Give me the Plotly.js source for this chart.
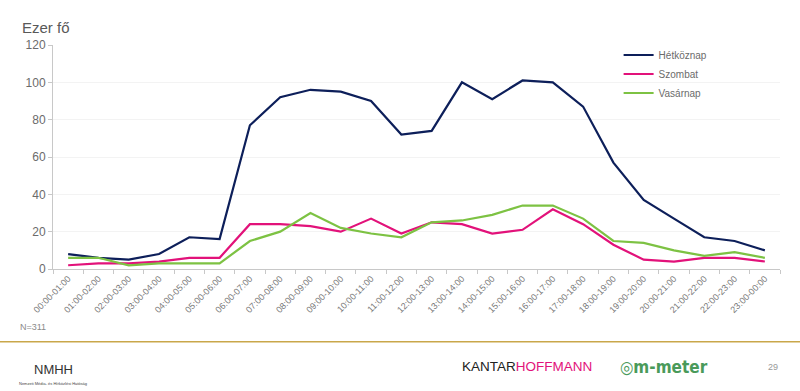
<!DOCTYPE html>
<html><head><meta charset="utf-8">
<script src="https://cdn.plot.ly/plotly-3.0.1.min.js"></script>
<style>html,body{margin:0;padding:0;background:#fff;}#chart{width:800px;height:391px;}</style>
</head><body><div id="chart"></div>
<script>
const categories = ["00:00-01:00","01:00-02:00","02:00-03:00","03:00-04:00","04:00-05:00","05:00-06:00","06:00-07:00","07:00-08:00","08:00-09:00","09:00-10:00","10:00-11:00","11:00-12:00","12:00-13:00","13:00-14:00","14:00-15:00","15:00-16:00","16:00-17:00","17:00-18:00","18:00-19:00","19:00-20:00","20:00-21:00","21:00-22:00","22:00-23:00","23:00-00:00"];
const hetkoznap = [8,6,5,8,17,16,77,92,96,95,90,72,74,100,91,101,100,87,57,37,27,17,15,10];
const szombat = [2,3,3,4,6,6,24,24,23,20,27,19,25,24,19,21,32,24,13,5,4,6,6,4];
const vasarnap = [6,6,2,3,3,3,15,20,30,22,19,17,25,26,29,34,34,27,15,14,10,7,9,6];
const seriesNames = ["Hétköznap","Szombat","Vasárnap"];
const yTicks = [0,20,40,60,80,100,120];

const gray = "#6b6b6b";
const traces = [
  {x: categories, y: hetkoznap, name: seriesNames[0], type: "scatter", mode: "lines", line: {color: "#0d1f5a", width: 2.2}},
  {x: categories, y: szombat, name: seriesNames[1], type: "scatter", mode: "lines", line: {color: "#e2127a", width: 2.2}},
  {x: categories, y: vasarnap, name: seriesNames[2], type: "scatter", mode: "lines", line: {color: "#7dc243", width: 2.2}}
];
const layout = {
  width: 800, height: 391,
  margin: {l: 53, r: 20, t: 45, b: 122},
  paper_bgcolor: "#fff", plot_bgcolor: "#fff",
  font: {family: "Liberation Sans, Arial, sans-serif", color: gray},
  showlegend: true,
  legend: {x: 0.778, y: 1.02, xanchor: "left", yanchor: "top", font: {size: 10, color: gray}, bgcolor: "rgba(0,0,0,0)", tracegroupgap: 0, itemwidth: 30},
  xaxis: {
    type: "category", range: [-0.5, 23.5], tickangle: -45,
    tickfont: {size: 9, color: "#7a7a7a"}, showgrid: false,
    showline: true, linecolor: "#c8c8c8", linewidth: 1,
    ticks: "outside", tickson: "boundaries", ticklen: 4, tickcolor: "#c8c8c8",
    zeroline: false
  },
  yaxis: {
    range: [0, 120], tickvals: yTicks, tickfont: {size: 12, color: gray},
    showgrid: true, gridcolor: "#f3f3f3", gridwidth: 1,
    showline: true, linecolor: "#c8c8c8", linewidth: 1,
    ticks: "outside", ticklen: 4, tickcolor: "#c8c8c8", zeroline: false
  },
  shapes: [
    {type: "line", xref: "paper", yref: "paper", x0: -0.073, x1: 1.0275, y0: -0.325, y1: -0.325, line: {color: "#c9a74a", width: 1.5}}
  ],
  annotations: [
    {text: "Ezer fő", xref: "paper", yref: "paper", x: -0.046, y: 1.08, xanchor: "left", yanchor: "middle", showarrow: false, font: {size: 15, color: "#595959"}},
    {text: "N=311", xref: "paper", yref: "paper", x: -0.048, y: -0.26, xanchor: "left", yanchor: "middle", showarrow: false, font: {size: 9, color: "#8a8a8a"}},
    {text: "NMHH", xref: "paper", yref: "paper", x: 0.0, y: -0.45, xanchor: "center", yanchor: "middle", showarrow: false, font: {size: 13, color: "#333"}},
    {text: "Nemzeti Média- és Hírközlési Hatóság", xref: "paper", yref: "paper", x: 0.0, y: -0.51, xanchor: "center", yanchor: "middle", showarrow: false, font: {size: 4, color: "#444"}},
    {text: "<span style='color:#222'>KANTAR</span><span style='color:#e2127a'>HOFFMANN</span>", xref: "paper", yref: "paper", x: 0.56, y: -0.436, xanchor: "left", yanchor: "middle", showarrow: false, font: {size: 13.5}},
    {text: "◎<b>m-meter</b>", xref: "paper", yref: "paper", x: 0.777, y: -0.436, xanchor: "left", yanchor: "middle", showarrow: false, font: {size: 17, color: "#4a9a5a", family: "DejaVu Sans Condensed, sans-serif"}},
    {text: "29", xref: "paper", yref: "paper", x: 0.99, y: -0.436, xanchor: "center", yanchor: "middle", showarrow: false, font: {size: 9, color: "#999"}}
  ]
};
Plotly.newPlot("chart", traces, layout, {displayModeBar: false, staticPlot: true});
</script>
</body></html>
